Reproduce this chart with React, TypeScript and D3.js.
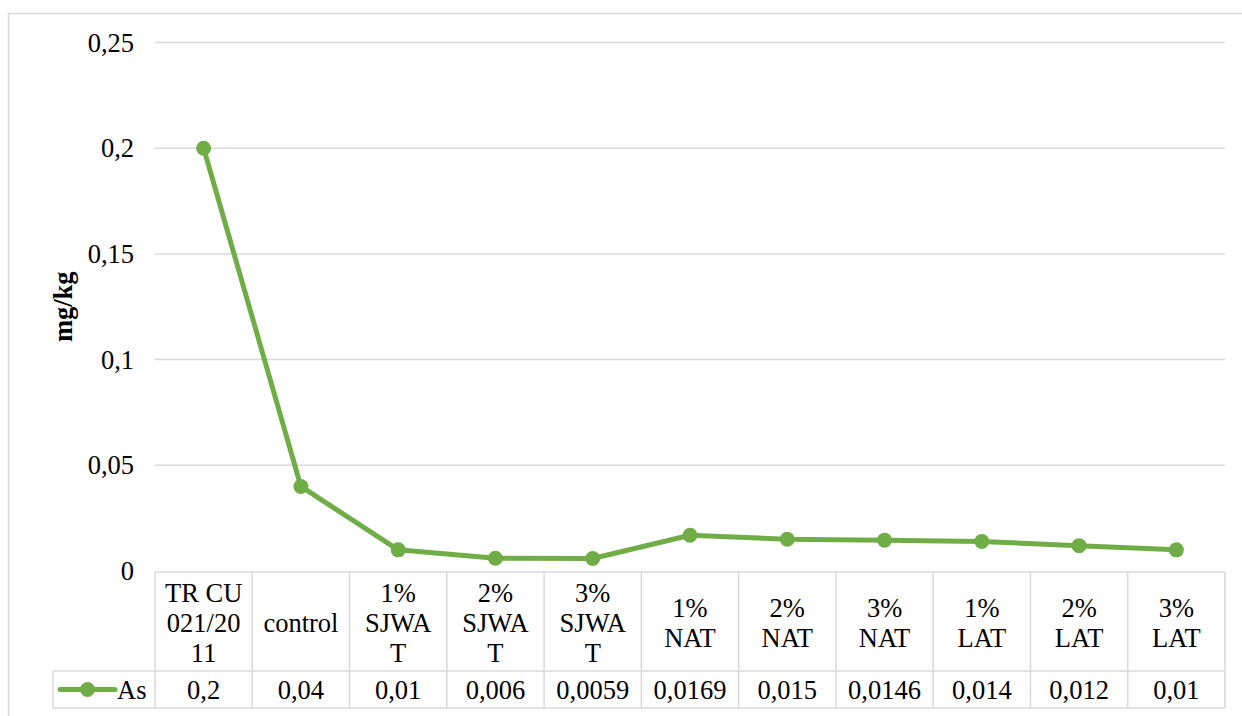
import React from "react";
import * as d3 from "d3";

const categories = [
  "TR CU 021/2011",
  "control",
  "1% SJWAT",
  "2% SJWAT",
  "3% SJWAT",
  "1% NAT",
  "2% NAT",
  "3% NAT",
  "1% LAT",
  "2% LAT",
  "3% LAT",
];
const categoryLines = [
  ["TR CU", "021/20", "11"],
  ["control"],
  ["1%", "SJWA", "T"],
  ["2%", "SJWA", "T"],
  ["3%", "SJWA", "T"],
  ["1%", "NAT"],
  ["2%", "NAT"],
  ["3%", "NAT"],
  ["1%", "LAT"],
  ["2%", "LAT"],
  ["3%", "LAT"],
];
const seriesName = "As";
const asValues = [0.2, 0.04, 0.01, 0.006, 0.0059, 0.0169, 0.015, 0.0146, 0.014, 0.012, 0.01];
const yTicks = [0, 0.05, 0.1, 0.15, 0.2, 0.25];
const yLabel = "mg/kg";

const W = 1242;
const H = 716;
const plotLeft = 155;
const plotRight = 1225;
const plotTop = 42.5;
const plotBottom = 571;
const headerTop = 572;
const headerBottom = 671;
const tableBottom = 708;
const legendLeft = 53;

const GRID = "#d9d9d9";
const GREEN = "#70ad47";
const FONT = '"Liberation Serif", "DejaVu Serif", serif';
const FS = 26.5;

const fmt = (v: number) => String(v).replace(".", ",");

export default function App() {
  const x = d3.scaleBand<string>().domain(categories).range([plotLeft, plotRight]).padding(0);
  const y = d3.scaleLinear().domain([0, 0.25]).range([plotBottom, plotTop]);
  const cx = (c: string) => (x(c) as number) + x.bandwidth() / 2;
  const line = d3
    .line<number>()
    .x((_, i) => cx(categories[i]))
    .y((d) => y(d));

  const lineH = 30;
  const headerMid = (headerTop + headerBottom) / 2 + 1;
  const valueMid = (headerBottom + tableBottom) / 2;
  const txt = { fontFamily: FONT, fontSize: FS, fill: "#000" } as React.CSSProperties;

  return (
    <svg
      width={W}
      height={H}
      style={{ position: "absolute", left: 0, top: 0, background: "#fff", fontFamily: FONT }}
    >
      <rect x={0} y={0} width={W} height={H} fill="#fff" />
      <rect x={8.5} y={13.5} width={W + 10} height={H + 10} fill="none" stroke={GRID} strokeWidth={1.5} />

      {yTicks.slice(1).map((t) => (
        <line key={t} x1={plotLeft} x2={plotRight} y1={y(t)} y2={y(t)} stroke={GRID} strokeWidth={1.5} />
      ))}
      {yTicks.map((t) => (
        <text key={t} x={134} y={y(t)} textAnchor="end" dominantBaseline="central" style={txt}>
          {fmt(t)}
        </text>
      ))}
      <text
        transform={`translate(63,${(plotTop + plotBottom) / 2}) rotate(-90)`}
        textAnchor="middle"
        dominantBaseline="central"
        style={{ ...txt, fontWeight: "bold" }}
      >
        {yLabel}
      </text>

      <g stroke={GRID} strokeWidth={1.5} fill="none">
        <line x1={plotLeft} x2={plotRight} y1={headerTop} y2={headerTop} />
        <line x1={legendLeft} x2={plotRight} y1={headerBottom} y2={headerBottom} />
        <line x1={legendLeft} x2={plotRight} y1={tableBottom} y2={tableBottom} />
        <line x1={legendLeft} x2={legendLeft} y1={headerBottom} y2={tableBottom} />
        {categories.map((c) => (
          <line key={c} x1={x(c) as number} x2={x(c) as number} y1={headerTop} y2={tableBottom} />
        ))}
        <line x1={plotRight} x2={plotRight} y1={headerTop} y2={tableBottom} />
      </g>
      {categories.map((c, i) => {
        const lines = categoryLines[i];
        const start = headerMid - ((lines.length - 1) * lineH) / 2;
        return (
          <g key={c}>
            {lines.map((l, j) => (
              <text key={j} x={cx(c)} y={start + j * lineH} textAnchor="middle" dominantBaseline="central" style={txt}>
                {l}
              </text>
            ))}
            <text x={cx(c)} y={valueMid} textAnchor="middle" dominantBaseline="central" style={txt}>
              {fmt(asValues[i])}
            </text>
          </g>
        );
      })}
      <line x1={60} x2={115} y1={valueMid} y2={valueMid} stroke={GREEN} strokeWidth={5} strokeLinecap="round" />
      <circle cx={87.5} cy={valueMid} r={7.5} fill={GREEN} />
      <text x={117} y={valueMid} dominantBaseline="central" style={txt}>
        {seriesName}
      </text>

      <path d={line(asValues) as string} fill="none" stroke={GREEN} strokeWidth={5} strokeLinejoin="round" />
      {asValues.map((v, i) => (
        <circle key={i} cx={cx(categories[i])} cy={y(v)} r={7.5} fill={GREEN} />
      ))}
    </svg>
  );
}
